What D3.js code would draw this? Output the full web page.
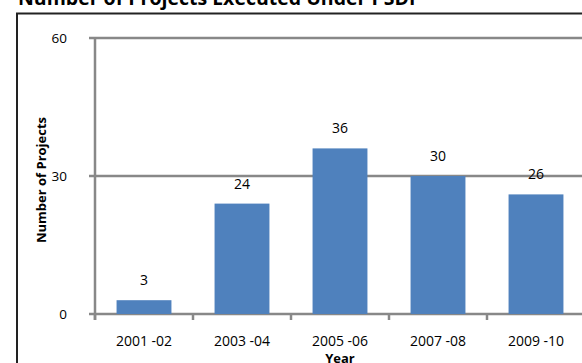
<!DOCTYPE html>
<html>
<head>
<meta charset="utf-8">
<script src="https://cdn.jsdelivr.net/npm/d3@7"></script>
<style>
  html, body { margin: 0; padding: 0; background: #fff; }
  svg { display: block; }
  text { font-family: "Open Sans", "Noto Sans", sans-serif; fill: #000; }
</style>
</head>
<body>
<svg id="chart" width="582" height="363"></svg>
<script>
// Projects executed per period
const categories = ["2001 -02", "2003 -04", "2005 -06", "2007 -08", "2009 -10"];
const projects = [3, 24, 36, 30, 26];
const yTicks = [0, 30, 60];

const svg = d3.select("#chart");

// Chart title
svg.append("text")
  .attr("x", 18).attr("y", 5)
  .attr("font-size", 19.5).attr("font-weight", "bold")
  .text("Number of Projects Executed Under PSDF");

// Chart area frame
svg.append("rect")
  .attr("x", 17).attr("y", 13.5)
  .attr("width", 600).attr("height", 400)
  .attr("fill", "none").attr("stroke", "#222").attr("stroke-width", 2);

const x = d3.scaleBand()
  .domain(categories)
  .range([95, 585])
  .paddingInner(0.44).paddingOuter(0.22);

const y = d3.scaleLinear().domain([0, 60]).range([314, 38]);

// Horizontal gridlines with short left ticks
const grid = svg.append("g");
grid.selectAll("line").data(yTicks).join("line")
  .attr("x1", 89).attr("x2", 600)
  .attr("y1", d => y(d)).attr("y2", d => y(d))
  .attr("stroke", "#888").attr("stroke-width", 2.5);

// Y axis labels
const yAxis = svg.append("g").attr("transform", "translate(95,0)")
  .call(d3.axisLeft(y).tickValues(yTicks).tickSize(0).tickPadding(28));
yAxis.select(".domain").remove();
yAxis.selectAll("text")
  .attr("font-size", 13.5).attr("font-family", "'Open Sans', sans-serif").attr("fill", "#000");

// Vertical axis line
svg.append("line")
  .attr("x1", 95).attr("x2", 95).attr("y1", 38).attr("y2", 320)
  .attr("stroke", "#888").attr("stroke-width", 2.5);

// Category boundary ticks below the baseline
const step = x.step();
const boundaries = d3.range(categories.length + 1).map(i => x(categories[0]) - x.paddingOuter() * step + i * step);
svg.append("g").selectAll("line").data(boundaries).join("line")
  .attr("x1", d => d).attr("x2", d => d)
  .attr("y1", 314).attr("y2", 320)
  .attr("stroke", "#888").attr("stroke-width", 2.5);

// Bars
svg.append("g").selectAll("rect").data(projects).join("rect")
  .attr("x", (d, i) => x(categories[i]))
  .attr("width", x.bandwidth())
  .attr("y", d => y(d))
  .attr("height", d => y(0) - y(d))
  .attr("fill", "#4F81BD");

// Value labels
svg.append("g").selectAll("text").data(projects).join("text")
  .attr("x", (d, i) => x(categories[i]) + x.bandwidth() / 2)
  .attr("y", d => y(d) - 15)
  .attr("text-anchor", "middle")
  .attr("font-size", 14)
  .text(d => d);

// Category labels
const xAxis = svg.append("g").attr("transform", "translate(0,314)")
  .call(d3.axisBottom(x).tickSize(0).tickPadding(22));
xAxis.select(".domain").remove();
xAxis.selectAll("text")
  .attr("font-size", 14).attr("font-family", "'Open Sans', sans-serif").attr("fill", "#000");

// Axis titles
svg.append("text")
  .attr("x", x(categories[2]) + x.bandwidth() / 2).attr("y", 363)
  .attr("text-anchor", "middle").attr("font-size", 13).attr("font-weight", "bold")
  .text("Year");

svg.append("text")
  .attr("transform", "translate(46,180) rotate(-90)")
  .attr("text-anchor", "middle").attr("font-size", 13).attr("font-weight", "bold")
  .text("Number of Projects");
</script>
</body>
</html>
